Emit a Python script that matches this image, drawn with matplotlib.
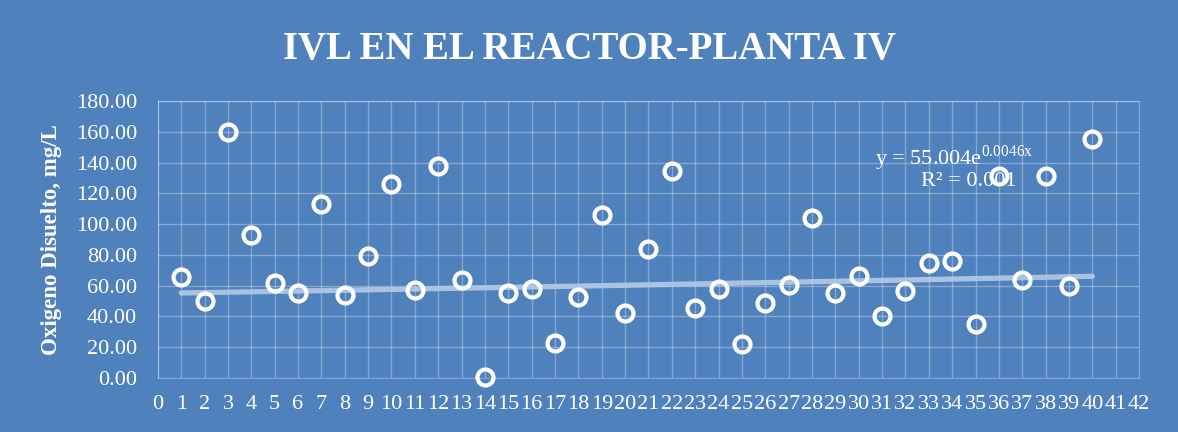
import matplotlib.pyplot as plt
import numpy as np

# datos
dia = list(range(1, 41))
oxigeno = [65.5, 50.0, 160.0, 93.0, 62.0, 55.0, 113.0, 54.0, 79.0, 126.0,
           57.0, 138.0, 63.5, 0.5, 55.0, 58.0, 22.5, 52.5, 106.0, 42.0,
           84.0, 134.5, 45.5, 58.0, 22.0, 49.0, 60.5, 104.0, 55.5, 66.0,
           40.0, 56.5, 75.0, 76.0, 35.0, 131.0, 63.5, 131.0, 60.0, 155.5]
# tendencia exponencial (Excel)
a_exp = 55.004
b_exp = 0.0046
x_ticks = list(range(0, 43))
y_ticks = list(range(0, 181, 20))

fondo = '#4F81BD'
plt.rcParams['font.family'] = ['Liberation Serif', 'DejaVu Serif']
plt.rcParams['mathtext.fontset'] = 'custom'
plt.rcParams['mathtext.rm'] = 'Liberation Serif'

fig = plt.figure(figsize=(11.78, 4.32), dpi=100, facecolor=fondo)
ax = fig.add_axes([0.134, 0.125, 0.833, 0.641])
ax.set_facecolor(fondo)

xt = np.array(dia, dtype=float)
ax.plot(xt, a_exp * np.exp(b_exp * xt), color='#B4CAE6', lw=3.8, alpha=0.9,
        solid_capstyle='round', zorder=2)
ax.plot(dia, oxigeno, 'o', ms=11.5, mfc='none', mec='white', mew=3,
        clip_on=False, zorder=3)

ax.set_xlim(0, 42)
ax.set_ylim(0, 180)
ax.set_xticks(x_ticks)
ax.set_xticklabels([str(t) for t in x_ticks])
ax.set_yticks(y_ticks)
ax.set_yticklabels(['%.2f' % t for t in y_ticks])
ax.grid(True, color='white', alpha=0.3, lw=1)
ax.tick_params(length=0, colors='white', labelsize=16)
ax.tick_params(axis='y', pad=15)
ax.tick_params(axis='x', pad=12)
for s in ax.spines.values():
    s.set_color('white')
    s.set_alpha(0.3)

ax.set_ylabel('Oxigeno Disuelto, mg/L', color='white', fontsize=16.5,
              fontweight='bold', labelpad=10)
fig.text(0.5, 0.885, 'IVL EN EL REACTOR-PLANTA IV', ha='center', va='center',
         color='white', fontsize=28, fontweight='bold')

ax.text(34.1, 143, 'y = 55.004e$^{\\mathrm{0.0046x}}$', ha='center', va='center',
        color='white', fontsize=16)
ax.text(34.7, 128, 'R\u00b2 = 0.001', ha='center', va='center',
        color='white', fontsize=16)

plt.savefig('out.png', dpi=100, facecolor=fondo)
